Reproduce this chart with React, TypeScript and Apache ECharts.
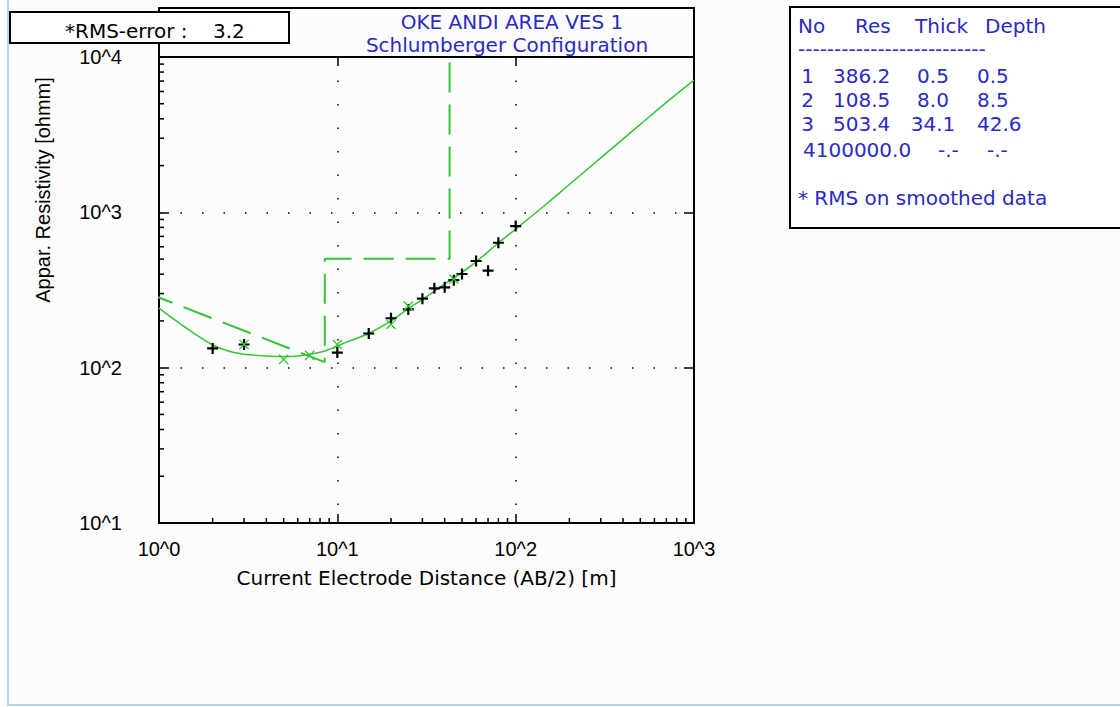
import React, { useEffect, useRef } from 'react';
import * as echarts from 'echarts';

// ---- axis ticks ----
const xTickValues = [1, 10, 100, 1000];
const xTickLabels = ['10^0', '10^1', '10^2', '10^3'];
const yTickValues = [10, 100, 1000, 10000];
const yTickLabels = ['10^1', '10^2', '10^3', '10^4'];
const xMinorTicks = [2, 3, 4, 5, 6, 7, 8, 9, 20, 30, 40, 50, 60, 70, 80, 90, 200, 300, 400, 500, 600, 700, 800, 900];
const yMinorTicks = [20, 30, 40, 50, 60, 70, 80, 90, 200, 300, 400, 500, 600, 700, 800, 900, 2000, 3000, 4000, 5000, 6000, 7000, 8000, 9000];

// ---- calculated model curve (solid) ----
const curveX = [1, 1.25, 1.6, 2, 2.5, 3, 4, 5, 6, 7, 8.5, 10, 12, 15, 20, 25, 30, 40, 50, 60, 80, 100, 150, 200, 300, 500, 700, 1000];
const curveY = [242, 200, 164, 140, 127, 122, 119, 118, 119, 122, 128, 138, 150, 166, 200, 240, 275, 345, 410, 480, 635, 780, 1140, 1510, 2240, 3680, 5100, 7100];

// ---- observed field data (black +) ----
const obsX = [2, 3, 10, 15, 20, 25, 30, 35, 40, 45, 50, 60, 70, 80, 100];
const obsY = [133, 141, 125, 166, 208, 237, 278, 324, 329, 366, 401, 486, 421, 637, 816];

// ---- smoothed data (green x) ----
const smX = [3, 5, 7, 10, 20, 25, 45];
const smY = [141, 113, 120, 141, 190, 249, 372];

// ---- layer model ----
const layerNo = [1, 2, 3, 4];
const layerRes = [386.2, 108.5, 503.4, 100000.0];
const layerThick = [0.5, 8.0, 34.1];
const layerDepth = [0.5, 8.5, 42.6];

const rmsError = 3.2;
const titleLines = ['OKE ANDI AREA VES 1', 'Schlumberger Configuration'];
const xAxisTitle = 'Current Electrode Distance (AB/2) [m]';
const yAxisTitle = 'Appar. Resistivity [ohmm]';
const tableHeader = ['No', 'Res', 'Thick', 'Depth'];
const tableNote = '* RMS on smoothed data';

const GREEN = '#35c435';
const BLUE = '#2a2ac4';
const WIDE = 'DejaVu Sans';
const ARIAL = 'Liberation Sans';

function labelFor(values: number[], labels: string[]) {
  return (v: number) => {
    const i = values.findIndex((t) => Math.abs(Math.log10(t) - Math.log10(v)) < 1e-6);
    return i >= 0 ? labels[i] : '';
  };
}

const PLUS = 'path://M8,0h4v8h8v4h-8v8h-4v-8h-8v-4h8z';
const THIN_PLUS = 'path://M9,0h2v9h9v2h-9v9h-2v-9h-9v-2h9z';

function txt(text: string, x: number, y: number, opts: any = {}) {
  return {
    type: 'text',
    x,
    y,
    z: opts.z ?? 50,
    rotation: opts.rotation ?? 0,
    silent: true,
    style: {
      text,
      fill: opts.fill ?? BLUE,
      fontSize: opts.fontSize ?? 20,
      fontFamily: opts.fontFamily ?? WIDE,
      align: opts.align ?? 'left',
      verticalAlign: 'middle',
    },
  };
}

export default function App() {
  const ref = useRef<HTMLDivElement>(null);

  useEffect(() => {
    if (!ref.current) return;
    const chart = echarts.init(ref.current, undefined, { renderer: 'svg' });

    const curveData = curveX.map((x, i) => [x, curveY[i]]);
    const obsData = obsX.map((x, i) => [x, obsY[i]]);
    const smData = smX.map((x, i) => [x, smY[i]]);
    const modelData = [
      [layerDepth[0], layerRes[0]],
      [layerDepth[1], layerRes[1]],
      [layerDepth[1], layerRes[2]],
      [layerDepth[2], layerRes[2]],
      [layerDepth[2], layerRes[3]],
    ];

    const frameLine = { show: true, onZero: false, lineStyle: { color: '#000', width: 2 } };

    const rowY = [76, 100, 124, 150];
    const tableTexts: any[] = [];
    tableTexts.push(txt(tableHeader[0], 798, 26));
    tableTexts.push(txt(tableHeader[1], 855, 26));
    tableTexts.push(txt(tableHeader[2], 915, 26));
    tableTexts.push(txt(tableHeader[3], 985, 26));
    tableTexts.push(txt('-'.repeat(26), 798, 49));
    layerNo.forEach((n, i) => {
      if (i < 3) {
        tableTexts.push(txt(String(n), 814, rowY[i], { align: 'right' }));
        tableTexts.push(txt(layerRes[i].toFixed(1), 833, rowY[i]));
        tableTexts.push(txt(layerThick[i].toFixed(1), 933, rowY[i], { align: 'center' }));
        tableTexts.push(txt(layerDepth[i].toFixed(1), 977, rowY[i]));
      } else {
        tableTexts.push(txt(String(n) + layerRes[i].toFixed(1), 803, rowY[i]));
        tableTexts.push(txt('-.-', 938, rowY[i]));
        tableTexts.push(txt('-.-', 987, rowY[i]));
      }
    });
    tableTexts.push(txt(tableNote, 798, 198));

    const option: any = {
      animation: false,
      backgroundColor: '#fcfcfc',
      grid: { left: 159, top: 57, width: 535, height: 466, containLabel: false },
      xAxis: [
        {
          type: 'log', logBase: 10, min: xTickValues[0], max: xTickValues[3], position: 'bottom',
          axisLine: frameLine,
          axisTick: { show: true, inside: true, length: 9, lineStyle: { color: '#000', width: 1.5 } },
          axisLabel: { show: true, margin: 16, color: '#000', fontSize: 20, fontFamily: ARIAL, formatter: labelFor(xTickValues, xTickLabels) },
          splitLine: { show: true, lineStyle: { color: '#000', width: 1.5, type: [1.5, 22] } },
          name: xAxisTitle, nameLocation: 'middle', nameGap: 45,
          nameTextStyle: { color: '#000', fontSize: 20, fontFamily: WIDE },
        },
        {
          type: 'log', logBase: 10, min: xTickValues[0], max: xTickValues[3], position: 'top',
          axisLine: frameLine, axisLabel: { show: false }, splitLine: { show: false },
          axisTick: { show: true, inside: true, length: 9, lineStyle: { color: '#000', width: 1.5 } },
        },
      ],
      yAxis: [
        {
          type: 'log', logBase: 10, min: yTickValues[0], max: yTickValues[3], position: 'left',
          axisLine: frameLine,
          axisTick: { show: true, inside: true, length: 10, lineStyle: { color: '#000', width: 1.5 } },
          axisLabel: { show: true, margin: 37, color: '#000', fontSize: 20, fontFamily: ARIAL, formatter: labelFor(yTickValues, yTickLabels) },
          splitLine: { show: true, lineStyle: { color: '#000', width: 1.5, type: [1.5, 20] } },
        },
        {
          type: 'log', logBase: 10, min: yTickValues[0], max: yTickValues[3], position: 'right',
          axisLine: frameLine, axisLabel: { show: false }, splitLine: { show: false },
          axisTick: { show: true, inside: true, length: 10, lineStyle: { color: '#000', width: 1.5 } },
        },
      ],
      series: [
        {
          type: 'custom', xAxisIndex: 0, yAxisIndex: 0, silent: true, z: 2,
          data: xMinorTicks.map((v) => [v, yTickValues[0]]),
          renderItem: (_p: any, api: any) => {
            const pt = api.coord([api.value(0), yTickValues[0]]);
            return { type: 'line', shape: { x1: pt[0], y1: pt[1], x2: pt[0], y2: pt[1] - 5 }, style: { stroke: '#000', lineWidth: 1.5 } };
          },
        },
        {
          type: 'custom', xAxisIndex: 0, yAxisIndex: 0, silent: true, z: 2,
          data: yMinorTicks.map((v) => [xTickValues[0], v]),
          renderItem: (_p: any, api: any) => {
            const pt = api.coord([xTickValues[0], api.value(1)]);
            return { type: 'line', shape: { x1: pt[0], y1: pt[1], x2: pt[0] + 5, y2: pt[1] }, style: { stroke: '#000', lineWidth: 1.5 } };
          },
        },
        {
          type: 'line', xAxisIndex: 0, yAxisIndex: 0, data: modelData, symbol: 'none',
          lineStyle: { color: GREEN, width: 2, type: [30, 12] }, clip: true, z: 3,
        },
        {
          type: 'line', xAxisIndex: 0, yAxisIndex: 0, data: curveData, symbol: 'none', smooth: 0.3,
          lineStyle: { color: GREEN, width: 1.5 }, clip: true, z: 4,
        },
        {
          type: 'scatter', xAxisIndex: 0, yAxisIndex: 0, data: obsData, symbol: PLUS, symbolSize: 11,
          itemStyle: { color: '#000', opacity: 1 }, z: 5,
        },
        {
          type: 'scatter', xAxisIndex: 0, yAxisIndex: 0, data: smData, symbol: THIN_PLUS, symbolSize: 13, symbolRotate: 45,
          itemStyle: { color: GREEN, opacity: 1 }, z: 6,
        },
      ],
      graphic: [
        { type: 'rect', silent: true, z: 1, shape: { x: 8, y: -10, width: 1200, height: 715 }, style: { fill: 'none', stroke: '#b6d4ec', lineWidth: 2 } },
        { type: 'rect', silent: true, z: 20, shape: { x: 159, y: 8, width: 535, height: 49 }, style: { fill: 'none', stroke: '#000', lineWidth: 2 } },
        txt(titleLines[0], 512, 22, { align: 'center' }),
        txt(titleLines[1], 507, 45, { align: 'center' }),
        { type: 'rect', silent: true, z: 60, shape: { x: 10, y: 12, width: 279, height: 31 }, style: { fill: '#fff', stroke: '#000', lineWidth: 2 } },
        txt('*RMS-error :', 65, 31, { fill: '#000', z: 61 }),
        txt(rmsError.toFixed(1), 213, 31, { fill: '#000', z: 61 }),
        { type: 'rect', silent: true, z: 20, shape: { x: 790, y: 7, width: 400, height: 221 }, style: { fill: '#fff', stroke: '#000', lineWidth: 2 } },
        ...tableTexts,
        txt(yAxisTitle, 43, 190, { fill: '#000', fontFamily: ARIAL, rotation: Math.PI / 2, align: 'center' }),
      ],
    };

    chart.setOption(option);
    return () => chart.dispose();
  }, []);

  return <div ref={ref} style={{ position: 'absolute', left: 0, top: 0, width: 1120, height: 707 }} />;
}
